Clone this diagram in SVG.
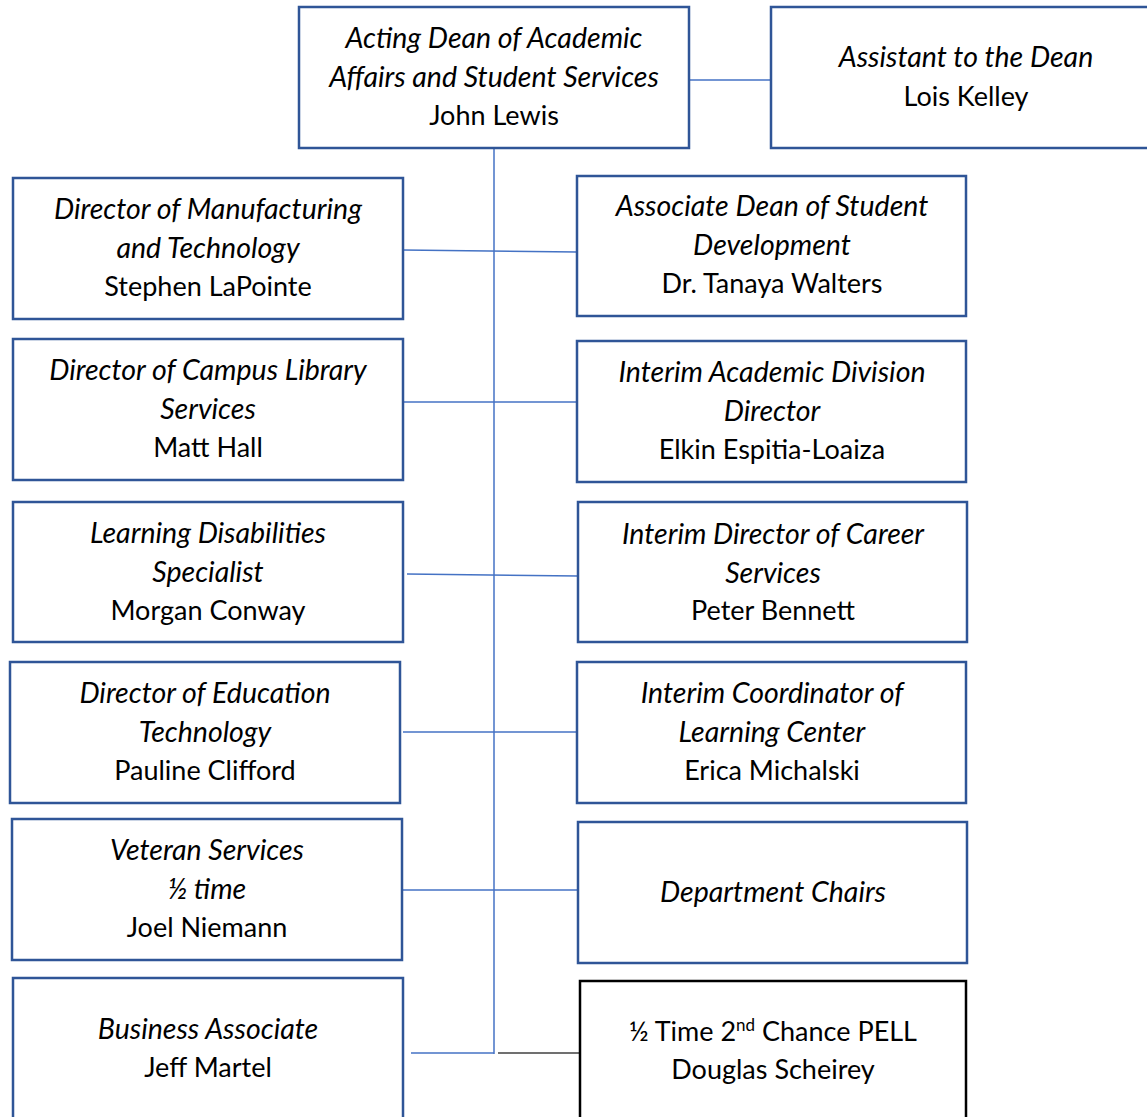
<svg xmlns="http://www.w3.org/2000/svg" width="1147" height="1117" viewBox="0 0 1147 1117">
<style>
.box{fill:#fff;stroke:#2F5597;stroke-width:2.5}
.bbox{fill:#fff;stroke:#000;stroke-width:2.5}
.ln{stroke:#4472C4;stroke-width:1.5;fill:none}
text{font-family:Lato,"Liberation Sans",sans-serif;font-size:27px;fill:#000;text-anchor:middle}
.i{font-style:italic;font-size:28.5px}
</style>
<rect width="1147" height="1117" fill="#fff"/>
<g id="connectors">
<line class="ln" x1="494" y1="148" x2="494" y2="1054"/>
<line class="ln" x1="689" y1="80" x2="771" y2="80"/>
<line class="ln" x1="403" y1="250" x2="577" y2="252"/>
<line class="ln" x1="399" y1="402" x2="577" y2="402"/>
<line class="ln" x1="407" y1="574" x2="578" y2="576"/>
<line class="ln" x1="403" y1="732" x2="580" y2="732"/>
<line class="ln" x1="402" y1="890" x2="578" y2="890"/>
<line class="ln" x1="411" y1="1053" x2="494" y2="1053"/>
<line x1="498" y1="1053" x2="580" y2="1053" stroke="#404040" stroke-width="1.5"/>
</g>
<g id="dean">
<rect class="box" x="299" y="7" width="390" height="141"/>
<text x="494" y="48" class="i">Acting Dean of Academic</text>
<text x="494" y="87" class="i">Affairs and Student Services</text>
<text x="494" y="125">John Lewis</text>
</g>
<g id="assistant">
<rect class="box" x="771" y="7" width="390" height="141"/>
<text x="966" y="67" class="i">Assistant to the Dean</text>
<text x="966" y="106">Lois Kelley</text>
</g>
<g id="manufacturing">
<rect class="box" x="13" y="178" width="390" height="141"/>
<text x="208" y="219" class="i">Director of Manufacturing</text>
<text x="208" y="258" class="i">and Technology</text>
<text x="208" y="296">Stephen LaPointe</text>
</g>
<g id="library">
<rect class="box" x="13" y="339" width="390" height="141"/>
<text x="208" y="380" class="i">Director of Campus Library</text>
<text x="208" y="419" class="i">Services</text>
<text x="208" y="457">Matt Hall</text>
</g>
<g id="disabilities">
<rect class="box" x="13" y="502" width="390" height="140"/>
<text x="208" y="543" class="i">Learning Disabilities</text>
<text x="208" y="582" class="i">Specialist</text>
<text x="208" y="620">Morgan Conway</text>
</g>
<g id="edtech">
<rect class="box" x="10" y="662" width="390" height="141"/>
<text x="205" y="703" class="i">Director of Education</text>
<text x="205" y="742" class="i">Technology</text>
<text x="205" y="780">Pauline Clifford</text>
</g>
<g id="veteran">
<rect class="box" x="12" y="819" width="390" height="141"/>
<text x="207" y="860" class="i">Veteran Services</text>
<text x="207" y="899" class="i">½ time</text>
<text x="207" y="937">Joel Niemann</text>
</g>
<g id="business">
<rect class="box" x="13" y="978" width="390" height="160"/>
<text x="208" y="1039" class="i">Business Associate</text>
<text x="208" y="1077">Jeff Martel</text>
</g>
<g id="studentdev">
<rect class="box" x="577" y="176" width="389" height="140"/>
<text x="772" y="216" class="i">Associate Dean of Student</text>
<text x="772" y="255" class="i">Development</text>
<text x="772" y="293">Dr. Tanaya Walters</text>
</g>
<g id="division">
<rect class="box" x="577" y="341" width="389" height="141"/>
<text x="772" y="382" class="i">Interim Academic Division</text>
<text x="772" y="421" class="i">Director</text>
<text x="772" y="459">Elkin Espitia-Loaiza</text>
</g>
<g id="career">
<rect class="box" x="578" y="502" width="389" height="140"/>
<text x="773" y="544" class="i">Interim Director of Career</text>
<text x="773" y="583" class="i">Services</text>
<text x="773" y="620">Peter Bennett</text>
</g>
<g id="learningcenter">
<rect class="box" x="577" y="662" width="389" height="141"/>
<text x="772" y="703" class="i">Interim Coordinator of</text>
<text x="772" y="742" class="i">Learning Center</text>
<text x="772" y="780">Erica Michalski</text>
</g>
<g id="chairs">
<rect class="box" x="578" y="822" width="389" height="141"/>
<text x="773" y="902" class="i">Department Chairs</text>
</g>
<g id="pell">
<rect class="bbox" x="580" y="981" width="386" height="160"/>
<text x="773" y="1041">½ Time 2<tspan font-size="17" dy="-10">nd</tspan><tspan dy="10"> Chance PELL</tspan></text>
<text x="773" y="1079">Douglas Scheirey</text>
</g>
</svg>
